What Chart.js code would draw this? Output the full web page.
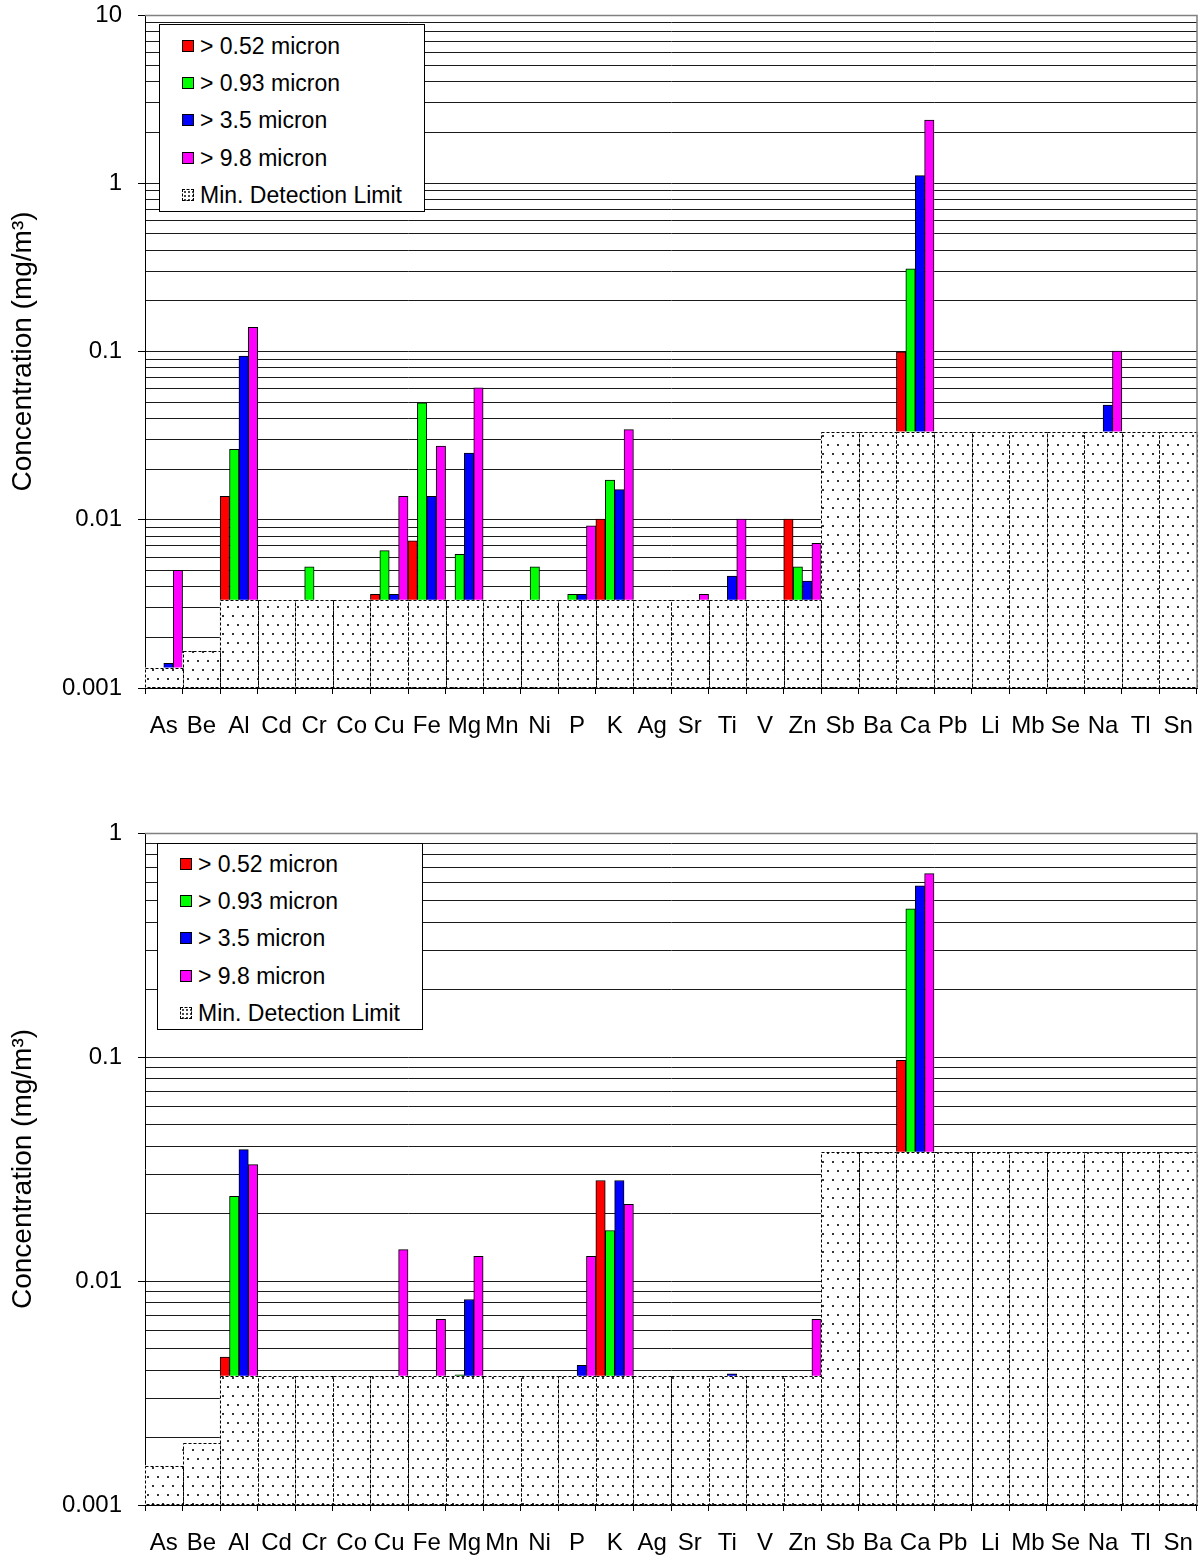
<!DOCTYPE html>
<html><head><meta charset="utf-8">
<script src="https://cdn.jsdelivr.net/npm/chart.js@4.4.1/dist/chart.umd.min.js"></script>
<style>
html,body{margin:0;padding:0;background:#fff;}
#wrap{position:relative;width:1200px;height:1562px;overflow:hidden;font-family:"Liberation Sans",Arial,sans-serif;}
.panel{position:absolute;left:0;width:1200px;}
.legend{position:absolute;background:#fff;border:1px solid #000;box-sizing:border-box;}
.legend .row{position:absolute;left:0;height:30px;line-height:30px;font-size:23px;white-space:nowrap;color:#000;}
.legend .sw{position:absolute;left:22px;top:9px;width:12px;height:12px;box-sizing:border-box;border:1px solid #000;}
.legend .sw.mdl{border:1px dashed #000;background:radial-gradient(circle,#444 0.7px,transparent 1.1px) 0 0/4px 4px,#fff;}
.legend .tx{position:absolute;left:40px;top:0;}
</style></head>
<body>
<div id="wrap">
  <div class="panel" style="top:0;height:780px;"><canvas id="cTop" width="1200" height="780"></canvas></div>
  <div class="panel" style="top:780px;height:782px;"><canvas id="cBot" width="1200" height="782"></canvas></div>
  <div class="legend" id="legTop" style="left:159px;top:24px;width:266px;height:188px;"></div>
  <div class="legend" id="legBot" style="left:157px;top:843px;width:266px;height:187px;"></div>
</div>
<script>
// ---------------- DATA ----------------
const categories = ['As','Be','Al','Cd','Cr','Co','Cu','Fe','Mg','Mn','Ni','P','K','Ag','Sr','Ti','V','Zn','Sb','Ba','Ca','Pb','Li','Mb','Se','Na','Tl','Sn'];
const seriesLabels = ['> 0.52 micron','> 0.93 micron','> 3.5 micron','> 9.8 micron'];
const mdlLabel = 'Min. Detection Limit';
const seriesColors = ['#FF0000','#00FF00','#0000FF','#FF00FF'];
const N = null;

// Top panel (mg/m3)
const top052 = [N,N,0.0138,N,N,N,0.0036,0.0075,N,N,N,N,0.0101,N,N,N,N,0.0101,N,N,0.0995,N,N,N,N,N,N,N];
const top093 = [N,N,0.0262,N,0.00525,N,0.00656,0.0496,0.00622,N,0.00525,0.0036,0.0172,N,N,N,N,0.00525,N,N,0.31,N,N,N,N,N,N,N];
const top35  = [0.0014,N,0.0938,N,N,N,0.0036,0.0138,0.0249,N,N,0.0036,0.0151,N,N,0.00462,N,0.00432,N,N,1.11,N,N,N,N,0.048,N,N];
const top98  = [0.005,N,0.139,N,N,N,0.0138,0.0274,0.0609,N,N,0.0092,0.0343,N,0.0036,0.0101,N,0.00725,N,N,2.37,N,N,N,N,0.1005,N,N];
const topMdl = [0.00132,0.00166,0.00333,0.00333,0.00333,0.00333,0.00333,0.00333,0.00333,0.00333,0.00333,0.00333,0.00333,0.00333,0.00333,0.00333,0.00333,0.00333,0.0333,0.0333,0.0333,0.0333,0.0333,0.0333,0.0333,0.0333,0.0333,0.0333];
const topDecadeLabels = ['0.001','0.01','0.1','1','10'];

// Bottom panel (mg/m3)
const bot052 = [N,N,0.00457,N,N,N,N,N,N,N,N,N,0.0281,N,N,N,N,N,N,N,0.0966,N,N,N,N,N,N,N];
const bot093 = [N,N,0.0239,N,N,N,N,N,0.00381,N,N,N,0.0168,N,N,N,N,N,N,N,0.459,N,N,N,N,N,N,N];
const bot35  = [N,N,0.0386,N,N,N,N,N,0.00827,N,N,0.0042,0.0281,N,N,0.00385,N,N,N,N,0.581,N,N,N,N,N,N,N];
const bot98  = [N,N,0.0331,N,N,N,0.0138,0.00675,0.0129,N,N,0.0129,0.022,N,N,N,N,0.00675,N,N,0.659,N,N,N,N,N,N,N];
const botMdl = [0.0015,0.0019,0.00376,0.00376,0.00376,0.00376,0.00376,0.00376,0.00376,0.00376,0.00376,0.00376,0.00376,0.00376,0.00376,0.00376,0.00376,0.00376,0.0376,0.0376,0.0376,0.0376,0.0376,0.0376,0.0376,0.0376,0.0376,0.0376];
const botDecadeLabels = ['0.001','0.01','0.1','1'];

const yTitle = 'Concentration (mg/m\u00B3)';
// --------------------------------------

const FONT = '"Liberation Sans", Arial, sans-serif';
Chart.defaults.font.family = FONT;
Chart.defaults.color = '#000';

function decadeExp(v){ const l = Math.log10(v); const r = Math.round(l); return Math.abs(l - r) < 1e-9 ? r : null; }
function gridValues(min, max){
  const out = [];
  const e0 = Math.round(Math.log10(min)), e1 = Math.round(Math.log10(max));
  for (let e = e0; e < e1; e++) for (let m = 1; m <= 9; m++) out.push(parseFloat((m * Math.pow(10, e)).toPrecision(6)));
  out.push(max);
  return out;
}
function dotPattern(ctx){
  const c = document.createElement('canvas'); c.width = 10; c.height = 18;
  const g = c.getContext('2d');
  g.fillStyle = '#fff'; g.fillRect(0,0,10,18);
  g.fillStyle = '#333'; g.fillRect(2,3,2,2); g.fillRect(7,12,2,2);
  return ctx.createPattern(c, 'repeat');
}

const mdlBorder = {
  id: 'mdlBorder',
  afterDatasetsDraw(chart){
    const ctx = chart.ctx;
    chart.data.datasets.forEach((ds, i) => {
      if (!ds.isMdl) return;
      const meta = chart.getDatasetMeta(i);
      ctx.save();
      ctx.setLineDash([3,2]); ctx.strokeStyle = '#000'; ctx.lineWidth = 1;
      meta.data.forEach(el => {
        const p = el.getProps(['x','y','base','width'], true);
        const l = Math.round(p.x - p.width/2) + 0.5, r = Math.round(p.x + p.width/2) + 0.5;
        const t = Math.round(p.y) + 0.5, b = Math.round(p.base) - 0.5;
        ctx.strokeRect(l, t, r - l, b - t);
      });
      ctx.restore();
    });
  }
};
const plotBorder = {
  id: 'plotBorder',
  afterDraw(chart){
    const a = chart.chartArea, ctx = chart.ctx;
    ctx.save(); ctx.strokeStyle = '#808080'; ctx.lineWidth = 1.5;
    ctx.beginPath();
    ctx.moveTo(a.left, a.top + 0.5); ctx.lineTo(a.right, a.top + 0.5); ctx.lineTo(a.right, a.bottom);
    ctx.stroke(); ctx.restore();
  }
};

function makeChart(canvasId, series, mdl, decadeLabels, yMax, padTop, xAxisH){
  const canvas = document.getElementById(canvasId);
  const ctx = canvas.getContext('2d');
  const datasets = series.map((vals, i) => ({
    label: seriesLabels[i], data: vals, backgroundColor: seriesColors[i],
    borderColor: '#000', borderWidth: 1, order: 1,
    categoryPercentage: 1, barPercentage: 1
  }));
  datasets.push({
    label: mdlLabel, data: mdl, backgroundColor: dotPattern(ctx), borderWidth: 0,
    order: 0, grouped: false, categoryPercentage: 1, barPercentage: 1, isMdl: true
  });
  return new Chart(ctx, {
    type: 'bar',
    data: { labels: categories, datasets },
    options: {
      responsive: false, animation: false, devicePixelRatio: 1,
      layout: { padding: { top: padTop, right: 3, left: 0, bottom: 0 } },
      plugins: { legend: { display: false }, tooltip: { enabled: false } },
      scales: {
        x: {
          type: 'category', position: 'bottom', offset: true,
          grid: { display: true, drawOnChartArea: false, drawTicks: true, tickLength: 6, color: '#000', offset: true },
          border: { display: true, color: '#000', width: 1 },
          ticks: { autoSkip: false, maxRotation: 0, minRotation: 0, padding: 18, color: '#000', font: { family: FONT, size: 24 } },
          afterFit(s){ s.height = xAxisH; s.paddingLeft = 0; s.paddingRight = 0; }
        },
        y: {
          type: 'logarithmic', position: 'left', min: 0.001, max: yMax,
          afterBuildTicks(s){ s.ticks = gridValues(0.001, yMax).map(v => ({ value: v })); },
          ticks: {
            autoSkip: false, padding: 16, color: '#000', font: { family: FONT, size: 24 },
            callback(v){ const e = decadeExp(v); return e === null ? '' : decadeLabels[e + 3]; }
          },
          grid: {
            color: '#1a1a1a', lineWidth: 1, drawTicks: true, tickLength: 7,
            tickColor: (c) => (c.tick && decadeExp(c.tick.value) !== null) ? '#000' : 'rgba(0,0,0,0)'
          },
          border: { display: true, color: '#000', width: 1 },
          title: { display: true, text: yTitle, color: '#000', font: { family: FONT, size: 28 }, padding: { top: 6, bottom: 0 } },
          afterFit(s){ s.width = 145; s.paddingTop = 0; s.paddingBottom = 0; }
        }
      }
    },
    plugins: [mdlBorder, plotBorder]
  });
}

function buildLegend(el, chart, rowCenters){
  chart.data.datasets.forEach((ds, i) => {
    const row = document.createElement('div');
    row.className = 'row';
    row.style.top = (rowCenters[i] - 15) + 'px';
    const sw = document.createElement('span');
    sw.className = 'sw' + (ds.isMdl ? ' mdl' : '');
    if (!ds.isMdl) sw.style.background = ds.backgroundColor;
    const tx = document.createElement('span');
    tx.className = 'tx'; tx.textContent = ds.label;
    row.appendChild(sw); row.appendChild(tx); el.appendChild(row);
  });
}

const chartTop = makeChart('cTop', [top052, top093, top35, top98], topMdl, topDecadeLabels, 10, 15, 92);
const chartBot = makeChart('cBot', [bot052, bot093, bot35, bot98], botMdl, botDecadeLabels, 1, 53, 57);
buildLegend(document.getElementById('legTop'), chartTop, [21, 58, 95, 133, 170]);
buildLegend(document.getElementById('legBot'), chartBot, [20, 57, 94, 132, 169]);
</script>
</body></html>
